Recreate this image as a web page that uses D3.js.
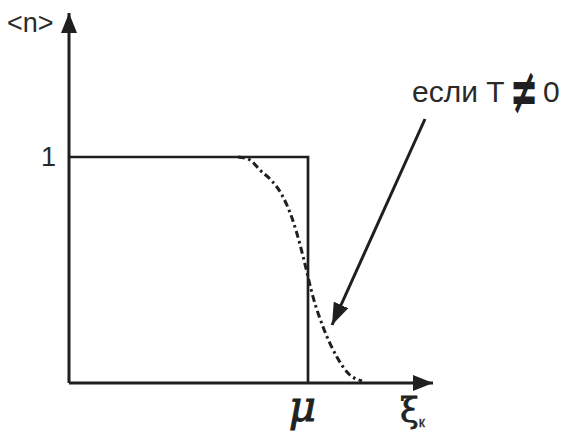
<!DOCTYPE html>
<html>
<head>
<meta charset="utf-8">
<script src="https://cdn.jsdelivr.net/npm/d3@7/dist/d3.min.js"></script>
<style>
  html, body { margin: 0; padding: 0; background: #fff; }
  svg { display: block; }
</style>
</head>
<body>
<svg id="chart" width="563" height="434"></svg>
<script>
// Occupancy <n> versus energy ξ_k, in units where μ = 1
const mu = 1;
const xMax = 1.523;          // end of the energy axis
const yMax = 1.637;          // end of the occupancy axis

// T = 0: step function
const stepE = [0, mu, mu];
const stepN = [1, 1, 0];

// T ≠ 0: smeared distribution
const curveE = [0.707, 0.757, 0.799, 0.849, 0.891, 0.933, 0.967, 0.987, 1.021, 1.063, 1.121, 1.167, 1.226];
const curveN = [1.0, 0.987, 0.942, 0.894, 0.832, 0.730, 0.611, 0.527, 0.381, 0.248, 0.115, 0.044, 0.009];

const yTicks = [1];
const xTicks = [mu];

const svg = d3.select("#chart");
const ink = "#1f1f1f";
const textInk = "#2a2a2a";
const sans = "'Liberation Sans', Arial, sans-serif";
const serif = "'DejaVu Serif', serif";

const x = d3.scaleLinear().domain([0, xMax]).range([69, 433]);
const y = d3.scaleLinear().domain([0, yMax]).range([383, 13]);

// arrowheads
const defs = svg.append("defs");
defs.append("marker")
  .attr("id", "axisHead")
  .attr("viewBox", "0 0 20 16")
  .attr("refX", 20).attr("refY", 8)
  .attr("markerUnits", "userSpaceOnUse")
  .attr("markerWidth", 20).attr("markerHeight", 16)
  .attr("orient", "auto")
  .append("path").attr("d", "M0,0 L20,8 L0,16 Z").attr("fill", ink);
defs.append("marker")
  .attr("id", "pointerHead")
  .attr("viewBox", "0 0 22 16")
  .attr("refX", 22).attr("refY", 8)
  .attr("markerUnits", "userSpaceOnUse")
  .attr("markerWidth", 22).attr("markerHeight", 16)
  .attr("orient", "auto")
  .append("path").attr("d", "M0,0 L22,8 L0,16 Z").attr("fill", ink);

// axes shafts
svg.append("line")
  .attr("x1", x(0)).attr("y1", y(0)).attr("x2", x(xMax)).attr("y2", y(0))
  .attr("stroke", ink).attr("stroke-width", 3)
  .attr("marker-end", "url(#axisHead)");
svg.append("line")
  .attr("x1", x(0)).attr("y1", y(0)).attr("x2", x(0)).attr("y2", y(yMax))
  .attr("stroke", ink).attr("stroke-width", 3)
  .attr("marker-end", "url(#axisHead)");

// tick labels through d3 axes
const yAxis = svg.append("g")
  .attr("transform", `translate(${x(0)},0)`)
  .call(d3.axisLeft(y).tickValues(yTicks).tickSize(0).tickPadding(13).tickFormat(d3.format("d")));
yAxis.select(".domain").remove();
yAxis.selectAll("text")
  .style("font-family", sans).style("font-size", "27px").style("fill", textInk);

const xAxis = svg.append("g")
  .attr("transform", `translate(0,${y(0)})`)
  .call(d3.axisBottom(x).tickValues(xTicks).tickSize(0).tickPadding(8).tickFormat(() => "μ"));
xAxis.select(".domain").remove();
xAxis.selectAll("text")
  .style("font-family", serif).style("font-size", "42px").style("font-style", "italic")
  .style("fill", "#222").style("stroke", "#222").style("stroke-width", "1px")
  .attr("dx", "-6");

// step (T = 0)
const line = d3.line().x(d => x(d[0])).y(d => y(d[1]));
svg.append("path")
  .datum(stepE.map((e, i) => [e, stepN[i]]))
  .attr("d", line)
  .attr("fill", "none").attr("stroke", ink).attr("stroke-width", 2.7)
  .attr("stroke-linejoin", "miter");

// smeared curve (T ≠ 0)
const smooth = d3.line().x(d => x(d[0])).y(d => y(d[1])).curve(d3.curveMonotoneX);
svg.append("path")
  .datum(curveE.map((e, i) => [e, curveN[i]]))
  .attr("d", smooth)
  .attr("fill", "none").attr("stroke", ink).attr("stroke-width", 3)
  .attr("stroke-dasharray", "7,3.5,2.5,3.5");

// pointer arrow to the curve
svg.append("line")
  .attr("x1", 425).attr("y1", 119).attr("x2", 332).attr("y2", 325)
  .attr("stroke", ink).attr("stroke-width", 3)
  .attr("marker-end", "url(#pointerHead)");

// labels
svg.append("text").attr("x", 7).attr("y", 32)
  .style("font-family", sans).style("font-size", "27px").style("fill", textInk)
  .text("<n>");

svg.append("text").attr("x", 412).attr("y", 102)
  .style("font-family", sans).style("font-size", "30px").style("fill", textInk)
  .text("если T");
svg.append("text")
  .attr("transform", "translate(510,113) scale(1.2,2.3)")
  .style("font-family", "'DejaVu Sans', sans-serif").style("font-size", "28px")
  .style("font-weight", "bold").style("fill", ink)
  .text("≠");
svg.append("text").attr("x", 543).attr("y", 102)
  .style("font-family", sans).style("font-size", "30px").style("fill", textInk)
  .text("0");

const xi = svg.append("text").attr("x", 400).attr("y", 422)
  .style("font-family", serif).style("font-size", "34px").style("fill", "#222")
  .style("stroke", "#222").style("stroke-width", "0.8px");
xi.append("tspan").text("ξ");
xi.append("tspan").attr("dy", 5)
  .style("font-family", sans).style("font-size", "14px").style("stroke-width", "0.3px")
  .text("к");
</script>
</body>
</html>
